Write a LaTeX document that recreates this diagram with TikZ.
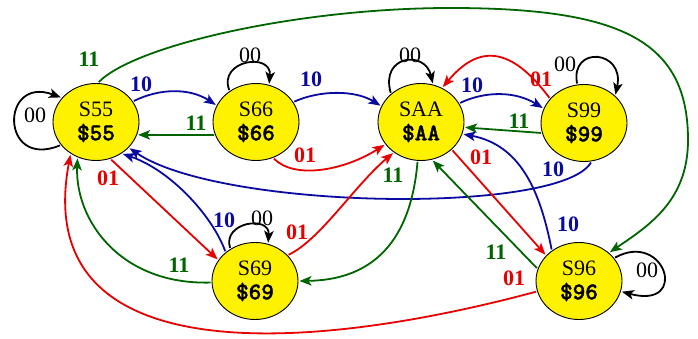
\documentclass[tikz,border=0pt]{standalone}
\usepackage{fontspec}
\setmainfont{Liberation Serif}
\newfontfamily\monob{lmmonolt10-bold.otf}[FakeBold=1.5]
\usetikzlibrary{arrows.meta,shapes.geometric}
\definecolor{eblue}{RGB}{10,10,160}
\definecolor{ered}{RGB}{230,0,0}
\definecolor{egreen}{RGB}{0,100,0}
\newcommand{\mtext}[1]{{\fontsize{24}{21}\monob #1}}
\begin{document}
\begin{tikzpicture}[x=1pt,y=-1pt,
  state/.style={ellipse, draw=black, line width=0.9pt, fill=yellow,
    minimum width=86pt, minimum height=77pt, inner sep=0pt, outer sep=1.5pt,
    align=center, font=\fontsize{22}{21}\selectfont},
  edge/.style={line width=1.8pt, -{Stealth[length=12pt,width=9.5pt,inset=3pt]}},
  lbl/.style={font=\fontsize{22}{22}\selectfont\bfseries, inner sep=0pt},
  lbz/.style={font=\fontsize{22}{22}\selectfont, inner sep=0pt},
]
\useasboundingbox (0,0) rectangle (698,339);

\node[state] (S55) at (96,122) {S55\\[3pt]\mtext{\$55}};
\node[state] (S66) at (256,122) {S66\\[3pt]\mtext{\$66}};
\node[state] (SAA) at (421,122) {SAA\\[3pt]\mtext{\$AA}};
\node[state] (S99) at (584,123) {S99\\[3pt]\mtext{\$99}};
\node[state] (S69) at (255,281) {S69\\[3pt]\mtext{\$69}};
\node[state] (S96) at (579,281) {S96\\[3pt]\mtext{\$96}};

\coordinate (gtop) at (450,8);
\coordinate (gright) at (688,140);

% self loops
\draw[edge,black] (S55.213) .. controls (0,170) and (0,75) .. (S55.145);
\draw[edge,black] (S66.130) .. controls (218,60) and (272,52) .. (S66.71);
\draw[edge,black] (SAA.136) .. controls (380,55) and (425,50) .. (SAA.73);
\draw[edge,black] (S99.100) .. controls (570,45) and (625,50) .. (S99.42);
\draw[edge,black] (S69.127) .. controls (222,222) and (270,215) .. (S69.71);
\draw[edge,black] (S96.33) .. controls (665,230) and (690,310) .. (S96.-14);

% blue (10)
\draw[edge,eblue] (S55.29) .. controls (160,88) and (190,88) .. (S66.157);
\draw[edge,eblue] (S66.28) .. controls (320,90) and (355,90) .. (SAA.158);
\draw[edge,eblue] (SAA.26) .. controls (485,91) and (515,91) .. (S99.160);
\draw[edge,eblue] (S99.280) .. controls (560,215) and (220,210) .. (S55.322);
\draw[edge,eblue] (S69.135) .. controls (212,215) and (170,170) .. (S55.310);
\draw[edge,eblue] (S96.131) .. controls (540,190) and (520,145) .. (SAA.344);

% green (11)
\draw[edge,egreen] (S66.197) -- (S55.343);
\draw[edge,egreen] (S99.193) -- (SAA.353);
\draw[edge,egreen] (S69.182) .. controls (120,285) and (75,220) .. (S55.243);
\draw[edge,egreen] (SAA.265) .. controls (410,250) and (365,280) .. (S69.0);
\draw[edge,egreen] (S96.163) -- (SAA.287);
\draw[edge,egreen] (S55.86) .. controls (135,45) and (300,8) .. (gtop)
   .. controls (620,8) and (688,40) .. (gright)
   .. controls (688,200) and (650,225) .. (S96.43);

% red (01)
\draw[edge,ered] (S66.296) .. controls (295,180) and (345,170) .. (SAA.212);
\draw[edge,ered] (S99.144) .. controls (510,45) and (478,45) .. (SAA.58);
\draw[edge,ered] (S55.292) -- (S69.150);
\draw[edge,ered] (S69.38) .. controls (320,240) and (355,185) .. (SAA.228);
\draw[edge,ered] (SAA.318) -- (S96.142);
\draw[edge,ered] (S96.194) .. controls (300,355) and (30,370) .. (S55.232);

% labels
\node[lbl,eblue] (l1) at (141,84) {10};
\node[lbl,egreen] (l2) at (196,123) {11};
\node[lbl,eblue] (l3) at (311,79) {10};
\node[lbl,ered] (l4) at (305,155) {01};
\node[lbl,eblue] (l5) at (472,85) {10};
\node[lbl,egreen] (l6) at (519,121) {11};
\node[lbl,ered] (l7) at (541,79) {01};
\node[lbl,eblue] (l8) at (553,169) {10};
\node[lbl,ered] (l9) at (108,178) {01};
\node[lbl,eblue] (l10) at (224,220) {10};
\node[lbl,egreen] (l11) at (179,265) {11};
\node[lbl,ered] (l12) at (297,232) {01};
\node[lbl,egreen] (l13) at (393,175) {11};
\node[lbl,ered] (l14) at (481,157) {01};
\node[lbl,egreen] (l15) at (496,252) {11};
\node[lbl,ered] (l16) at (514,278) {01};
\node[lbl,egreen] (l17) at (89,59) {11};
\node[lbl,eblue] (l18) at (568,224) {10};

\node[lbz] (z1) at (35,115) {00};
\node[lbz] (z2) at (250,55) {00};
\node[lbz] (z3) at (410,55) {00};
\node[lbz] (z4) at (565,64) {00};
\node[lbz] (z5) at (262,218) {00};
\node[lbz] (z6) at (647,270) {00};
\end{tikzpicture}
\end{document}
